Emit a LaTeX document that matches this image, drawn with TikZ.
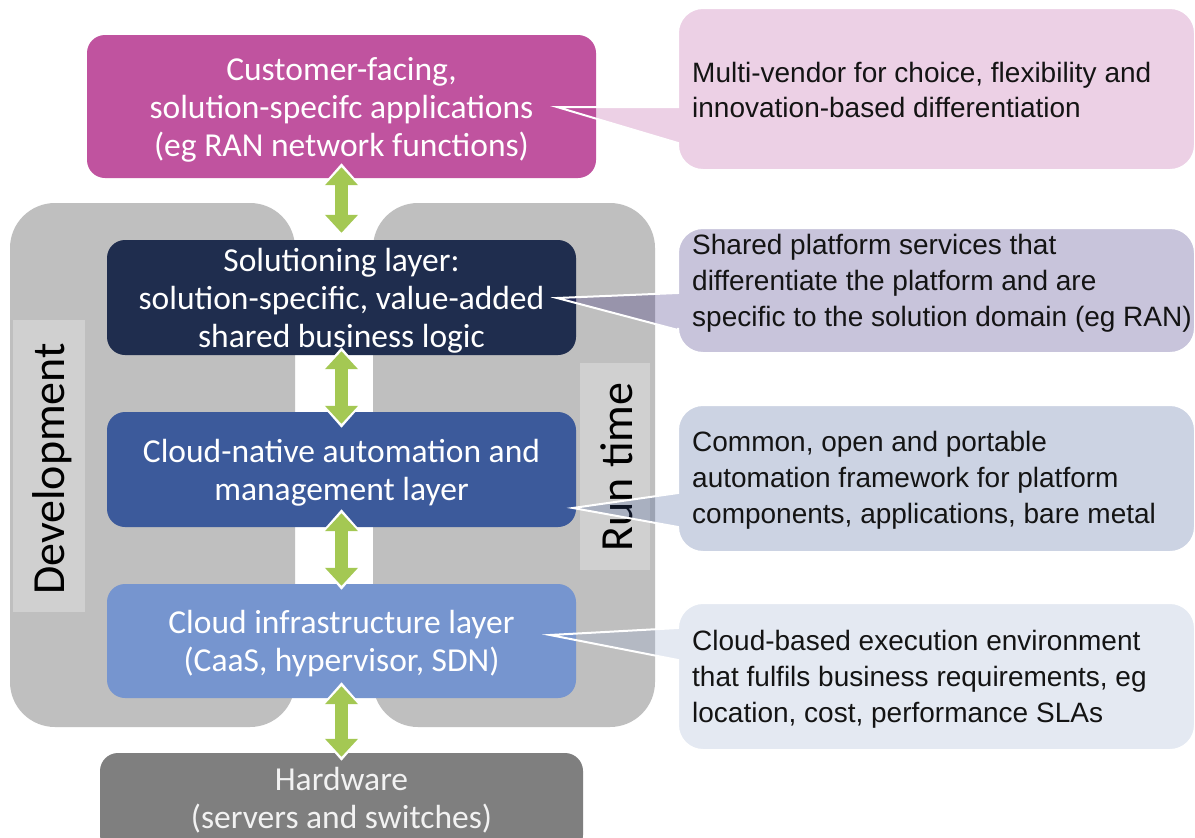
\documentclass[tikz,border=0pt]{standalone}
\usepackage{fontspec}
\setmainfont{Carlito}
\newfontfamily\arialfont{Liberation Sans}
\usetikzlibrary{arrows.meta,calc}
\definecolor{appmag}{HTML}{C0539F}
\definecolor{solnavy}{HTML}{1F2D4E}
\definecolor{cnblue}{HTML}{3C5A9B}
\definecolor{infblue}{HTML}{7695CF}
\definecolor{hwgray}{HTML}{7F7F7F}
\definecolor{panelgray}{HTML}{BFBFBF}
\definecolor{labgray}{HTML}{D0D0D0}
\definecolor{arrgreen}{HTML}{A4C853}
\definecolor{cotone}{RGB}{183,71,155}
\definecolor{cottwo}{RGB}{39,23,115}
\definecolor{cothree}{RGB}{55,83,147}
\definecolor{cofour}{RGB}{151,171,207}
\newcommand{\boxfont}{\fontsize{33.5}{38}\selectfont}
\newcommand{\calfont}{\arialfont\fontsize{28}{35.8}\selectfont}
\newcommand{\sidefont}{\fontsize{46}{50}\selectfont}
% style, L, R, T, B, tipx, tipy, ptop, pbot  (pixel coordinates, y downwards)
\newcommand{\calloutshape}[9]{%
  \path[#1] (#6,-#7) -- (#2,-#9) -- (#2,{-(#5-25)})
    arc[start angle=180,end angle=270,radius=25pt] -- ({#3-25},-#5)
    arc[start angle=270,end angle=360,radius=25pt] -- (#3,{-(#4+25)})
    arc[start angle=0,end angle=90,radius=25pt] -- ({#2+25},-#4)
    arc[start angle=90,end angle=180,radius=25pt] -- (#2,-#8) -- cycle;}
\tikzset{
  layerbox/.style={rectangle, rounded corners=18pt, inner sep=0pt},
  boxtext/.style={text=white, align=center, font=\boxfont, inner sep=0pt},
  panel/.style={fill=panelgray, rounded corners=45pt},
  sidelab/.style={fill=labgray},
  sidetext/.style={rotate=90, font=\sidefont, text=black, inner sep=0pt},
  ctext/.style={anchor=west, align=left, font=\calfont, text=black!92, inner sep=0pt},
  coback/.style={fill=#1, fill opacity=0.25, draw=white, draw opacity=1, line width=2pt},
  arrwhite/.style={draw=white, line width=20pt,
    {Triangle[width=42pt,length=25pt]}-{Triangle[width=42pt,length=25pt]}},
  arrfill/.style={draw=arrgreen, line width=13pt,
    {Triangle[width=32pt,length=18pt]}-{Triangle[width=32pt,length=18pt]},
    shorten <=4pt, shorten >=4pt},
}
\begin{document}
\begin{tikzpicture}[x=1pt,y=1pt]
\useasboundingbox (0,0) rectangle (1195,-838);
\fill[white] (0,0) rectangle (1195,-838);
% panels
\fill[panel] (10,-203) rectangle (295,-727);
\fill[panel] (373,-203) rectangle (655,-727);
\fill[sidelab] (13,-320) rectangle (85,-612);
\fill[sidelab] (580,-363) rectangle (650,-570);
\node[sidetext] (dev) at (52,-469) {Development};
\node[sidetext] (rt) at (617,-467) {Run time};
% layer boxes
\node[layerbox, fill=appmag, minimum width=509pt, minimum height=143pt] (app) at (341.5,-106.5) {};
\node[layerbox, fill=solnavy, minimum width=469pt, minimum height=115pt] (sol) at (341.5,-297.5) {};
\node[layerbox, fill=cnblue, minimum width=469pt, minimum height=115pt] (cn) at (341.5,-469.5) {};
\node[layerbox, fill=infblue, minimum width=469pt, minimum height=114pt] (inf) at (341.5,-641) {};
\node[layerbox, fill=hwgray, minimum width=483pt, minimum height=100pt] (hw) at (341.5,-803) {};
\node[boxtext] (appt) at ([yshift=-3.5pt]app.center)
  {Customer-facing,\\solution-specifc applications\\(eg RAN network functions)};
\node[boxtext] (solt) at ([yshift=-3.5pt]sol.center)
  {Solutioning layer:\\solution-specific, value-added\\shared business logic};
\node[boxtext] (cnt) at ([yshift=-3pt]cn.center)
  {Cloud-native automation and\\management layer};
\node[boxtext] (inft) at ([yshift=-3pt]inf.center)
  {Cloud infrastructure layer\\(CaaS, hypervisor, SDN)};
\node[boxtext, text=white!95!black] (hwt) at (341.5,-800)
  {Hardware\\(servers and switches)};
% callouts
\calloutshape{coback=cotone}{678}{1195}{8}{170}{557}{107}{107}{143}
\calloutshape{coback=cottwo}{678}{1195}{228}{353}{557}{298}{293}{330}
\calloutshape{coback=cothree}{678}{1195}{405}{552}{573}{508}{493}{527}
\calloutshape{coback=cofour}{678}{1195}{603}{750}{550}{635}{628}{660}
\node[ctext] (t1) at (692,-90) {Multi-vendor for choice, flexibility and\\innovation-based differentiation};
\node[ctext] (t2) at (692,-283.5) {Shared platform services that\\differentiate the platform and are\\specific to the solution domain (eg RAN)};
\node[ctext] (t3) at (692,-480.5) {Common, open and portable\\automation framework for platform\\components, applications, bare metal};
\node[ctext] (t4) at (692,-679) {Cloud-based execution environment\\that fulfils business requirements, eg\\location, cost, performance SLAs};
% arrows
\draw[arrwhite] ([yshift=15pt]app.south) -- ([yshift=3pt]sol.north);
\draw[arrfill]  ([yshift=15pt]app.south) -- ([yshift=3pt]sol.north);
\draw[arrwhite] ([yshift=8pt]sol.south) -- ([yshift=-16pt]cn.north);
\draw[arrfill]  ([yshift=8pt]sol.south) -- ([yshift=-16pt]cn.north);
\draw[arrwhite] ([yshift=18pt]cn.south) -- ([yshift=-6pt]inf.north);
\draw[arrfill]  ([yshift=18pt]cn.south) -- ([yshift=-6pt]inf.north);
\draw[arrwhite] ([yshift=16pt]inf.south) -- ([yshift=-8pt]hw.north);
\draw[arrfill]  ([yshift=16pt]inf.south) -- ([yshift=-8pt]hw.north);
\end{tikzpicture}
\end{document}
